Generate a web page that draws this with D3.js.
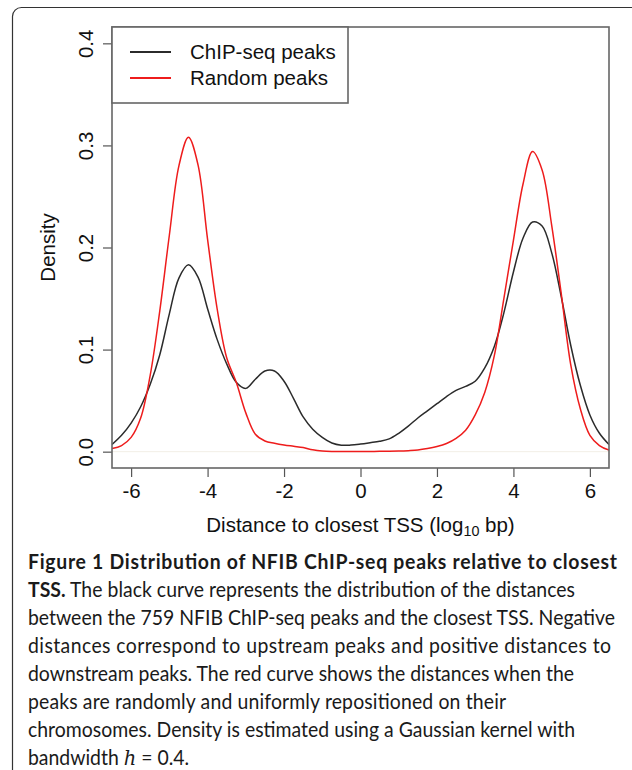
<!DOCTYPE html>
<html>
<head>
<meta charset="utf-8">
<script src="https://cdn.jsdelivr.net/npm/d3@7"></script>
<style>
    body { margin: 0; background: #fff; }
    svg { display: block; }
</style>
</head>
<body>
<div id="chart"></div>
<script>
// distance grid (log10 bp) and the two density curves
var distances = [-6.5, -6.25, -6.0, -5.75, -5.5, -5.25, -5.0, -4.75, -4.5, -4.25, -4.0, -3.75, -3.5,
    -3.25, -3.0, -2.75, -2.5, -2.25, -2.0, -1.75, -1.5, -1.25, -1.0, -0.75, -0.5, -0.25, 0,
    0.25, 0.5, 0.75, 1.0, 1.25, 1.5, 1.75, 2.0, 2.25, 2.5, 2.75, 3.0, 3.25, 3.5, 3.75, 4.0,
    4.25, 4.5, 4.75, 5.0, 5.25, 5.5, 5.75, 6.0, 6.25, 6.5];

var chipDensity = [0.007, 0.016, 0.028, 0.044, 0.066, 0.095, 0.135, 0.170, 0.183, 0.171, 0.140, 0.110, 0.086,
    0.068, 0.062, 0.071, 0.079, 0.079, 0.069, 0.052, 0.034, 0.022, 0.014, 0.0085, 0.0063, 0.0065, 0.0075,
    0.0088, 0.0102, 0.0125, 0.018, 0.025, 0.033, 0.040, 0.047, 0.054, 0.060, 0.064, 0.069, 0.082, 0.103, 0.136, 0.176,
    0.209, 0.225, 0.221, 0.195, 0.152, 0.104, 0.065, 0.036, 0.018, 0.007];

var randomDensity = [0.003, 0.006, 0.014, 0.033, 0.075, 0.138, 0.212, 0.280, 0.308, 0.281, 0.208, 0.140, 0.092,
    0.068, 0.038, 0.017, 0.0105, 0.0083, 0.0066, 0.0053, 0.004, 0.0018, 0.0006, 0.0002, 0.0002, 0.0002, 0.0002,
    0.0002, 0.0003, 0.0004, 0.0006, 0.001, 0.0016, 0.003, 0.005, 0.008, 0.013, 0.021, 0.036, 0.058, 0.094, 0.150, 0.207,
    0.262, 0.294, 0.276, 0.222, 0.155, 0.085, 0.042, 0.016, 0.006, 0.0015];

var xTicks = [-6, -4, -2, 0, 2, 4, 6];
var yTicks = [0.0, 0.1, 0.2, 0.3, 0.4];
var seriesNames = ["ChIP-seq peaks", "Random peaks"];
var seriesColors = ["#2b2b2b", "#ee1c1c"];

var captionLines = [
    [{t: "Figure 1 Distribution of NFIB ChIP-seq peaks relative to closest", b: true}],
    [{t: "TSS.", b: true}, {t: " The black curve represents the distribution of the distances"}],
    [{t: "between the 759 NFIB ChIP-seq peaks and the closest TSS. Negative"}],
    [{t: "distances correspond to upstream peaks and positive distances to"}],
    [{t: "downstream peaks. The red curve shows the distances when the"}],
    [{t: "peaks are randomly and uniformly repositioned on their"}],
    [{t: "chromosomes. Density is estimated using a Gaussian kernel with"}],
    [{t: "bandwidth "}, {t: "h", i: true}, {t: " = 0.4."}]
];
// right end of each caption line in the reference (null = natural width)
var captionEnds = [617, 575, 615, 611, 574, 506, 575, null];

var width = 632, height = 770;
var plot = {left: 112, right: 609, top: 27, bottom: 468};
var plotFont = "'Liberation Sans', Arial, Helvetica, sans-serif";
var plotSize = 20.5;

var svg = d3.select("#chart")
    .append("svg")
    .attr("width", width)
    .attr("height", height);

// outer figure frame (runs off the right and bottom edges)
svg.append("rect")
    .attr("x", 12.5)
    .attr("y", 7.5)
    .attr("width", 640)
    .attr("height", 800)
    .attr("rx", 9)
    .attr("fill", "none")
    .attr("stroke", "#333")
    .attr("stroke-width", 1.2);

var x = d3.scaleLinear()
    .domain([-6.5, 6.5])
    .range([plot.left, plot.right]);

var y = d3.scaleLinear()
    .domain([-0.016, 0.416])
    .range([plot.bottom, plot.top]);

svg.append("clipPath")
    .attr("id", "plotclip")
    .append("rect")
    .attr("x", plot.left)
    .attr("y", plot.top)
    .attr("width", plot.right - plot.left)
    .attr("height", plot.bottom - plot.top);

// faint zero line
svg.append("line")
    .attr("x1", plot.left)
    .attr("x2", plot.right)
    .attr("y1", y(0))
    .attr("y2", y(0))
    .attr("stroke", "#f2efe6")
    .attr("stroke-width", 1);

var line = d3.line()
    .x(function (d) { return x(d[0]); })
    .y(function (d) { return y(Math.max(0, d[1])); })
    .curve(d3.curveCatmullRom.alpha(0.5));

var curves = [chipDensity, randomDensity];

svg.append("g")
    .attr("clip-path", "url(#plotclip)")
    .selectAll("path")
    .data(curves)
    .enter()
    .append("path")
    .attr("d", function (vals) {
        return line(distances.map(function (v, i) { return [v, vals[i]]; }));
    })
    .attr("fill", "none")
    .attr("stroke", function (d, i) { return seriesColors[i]; })
    .attr("stroke-width", 1.5);

// x axis (R style, ticks pointing down)
var xAxis = svg.append("g")
    .attr("transform", "translate(0," + plot.bottom + ")")
    .call(d3.axisBottom(x).tickValues(xTicks).tickSize(9).tickPadding(6).tickSizeOuter(0)
        .tickFormat(function (d) { return d3.format("d")(d).replace("−", "-"); }));
xAxis.select(".domain").remove();
xAxis.selectAll(".tick line").attr("stroke", "#555").attr("stroke-width", 1.2);
xAxis.selectAll(".tick text")
    .attr("font-family", plotFont)
    .attr("font-size", plotSize)
    .attr("fill", "#111");

// y axis with rotated labels
var yAxis = svg.append("g")
    .attr("transform", "translate(" + plot.left + ",0)")
    .call(d3.axisLeft(y).tickValues(yTicks).tickSize(9).tickSizeOuter(0).tickFormat(d3.format(".1f")));
yAxis.select(".domain").remove();
yAxis.selectAll(".tick line").attr("stroke", "#555").attr("stroke-width", 1.2);
yAxis.selectAll(".tick text")
    .attr("x", null)
    .attr("dy", null)
    .attr("transform", "translate(-19,0) rotate(-90)")
    .attr("text-anchor", "middle")
    .attr("font-family", plotFont)
    .attr("font-size", plotSize)
    .attr("fill", "#111");

// plot box
svg.append("rect")
    .attr("x", plot.left)
    .attr("y", plot.top)
    .attr("width", plot.right - plot.left)
    .attr("height", plot.bottom - plot.top)
    .attr("fill", "none")
    .attr("stroke", "#666")
    .attr("stroke-width", 1.6);

// axis titles
var xTitle = svg.append("text")
    .attr("x", (plot.left + plot.right) / 2)
    .attr("y", 532)
    .attr("text-anchor", "middle")
    .attr("font-family", plotFont)
    .attr("font-size", plotSize)
    .attr("fill", "#111");
xTitle.append("tspan").text("Distance to closest TSS (log");
xTitle.append("tspan").attr("font-size", plotSize * 0.7).attr("dy", 4).text("10");
xTitle.append("tspan").attr("dy", -4).text(" bp)");

svg.append("text")
    .attr("transform", "translate(55," + (plot.top + plot.bottom) / 2 + ") rotate(-90)")
    .attr("text-anchor", "middle")
    .attr("font-family", plotFont)
    .attr("font-size", plotSize)
    .attr("fill", "#111")
    .text("Density");

// legend
var legend = svg.append("g");
legend.append("rect")
    .attr("x", plot.left)
    .attr("y", plot.top)
    .attr("width", 236)
    .attr("height", 76)
    .attr("fill", "#fff")
    .attr("stroke", "#666")
    .attr("stroke-width", 1.6);

var item = legend.selectAll(".item")
    .data(seriesNames)
    .enter()
    .append("g")
    .attr("class", "item")
    .attr("transform", function (d, i) { return "translate(0," + (52 + i * 26) + ")"; });

item.append("line")
    .attr("x1", 130)
    .attr("x2", 171)
    .attr("stroke", function (d, i) { return seriesColors[i]; })
    .attr("stroke-width", 2.2);

item.append("text")
    .attr("x", 190)
    .attr("y", 7)
    .attr("font-family", plotFont)
    .attr("font-size", plotSize)
    .attr("fill", "#111")
    .text(function (d) { return d; });

// caption
var capFont = "Lato, 'Open Sans', sans-serif";
var capLeft = 28;
var caption = svg.append("g").attr("class", "caption");
var capText = caption.selectAll("text")
    .data(captionLines)
    .enter()
    .append("text")
    .attr("x", 0)
    .attr("y", function (d, i) { return 569 + i * 28; })
    .attr("font-family", capFont)
    .attr("font-size", 20.5)
    .attr("fill", "#1a1a1a");

capText.selectAll("tspan")
    .data(function (d) { return d; })
    .enter()
    .append("tspan")
    .attr("font-weight", function (d) { return d.b ? 700 : 400; })
    .attr("font-style", function (d) { return d.i ? "italic" : null; })
    .attr("font-family", function (d) { return d.i ? "'DejaVu Serif', serif" : null; })
    .text(function (d) { return d.t; });

// squeeze caption horizontally to the reference column width,
// then let each line's spacing settle on the reference line end
var ref = capText.nodes()[2].getComputedTextLength();
var sx = (captionEnds[2] - capLeft) / ref;
caption.attr("transform", "translate(" + capLeft + ",0) scale(" + sx + ",1)");
capText.each(function (d, i) {
    if (captionEnds[i] === null) return;
    d3.select(this)
        .attr("textLength", (captionEnds[i] - capLeft) / sx)
        .attr("lengthAdjust", "spacing");
});
</script>
</body>
</html>
